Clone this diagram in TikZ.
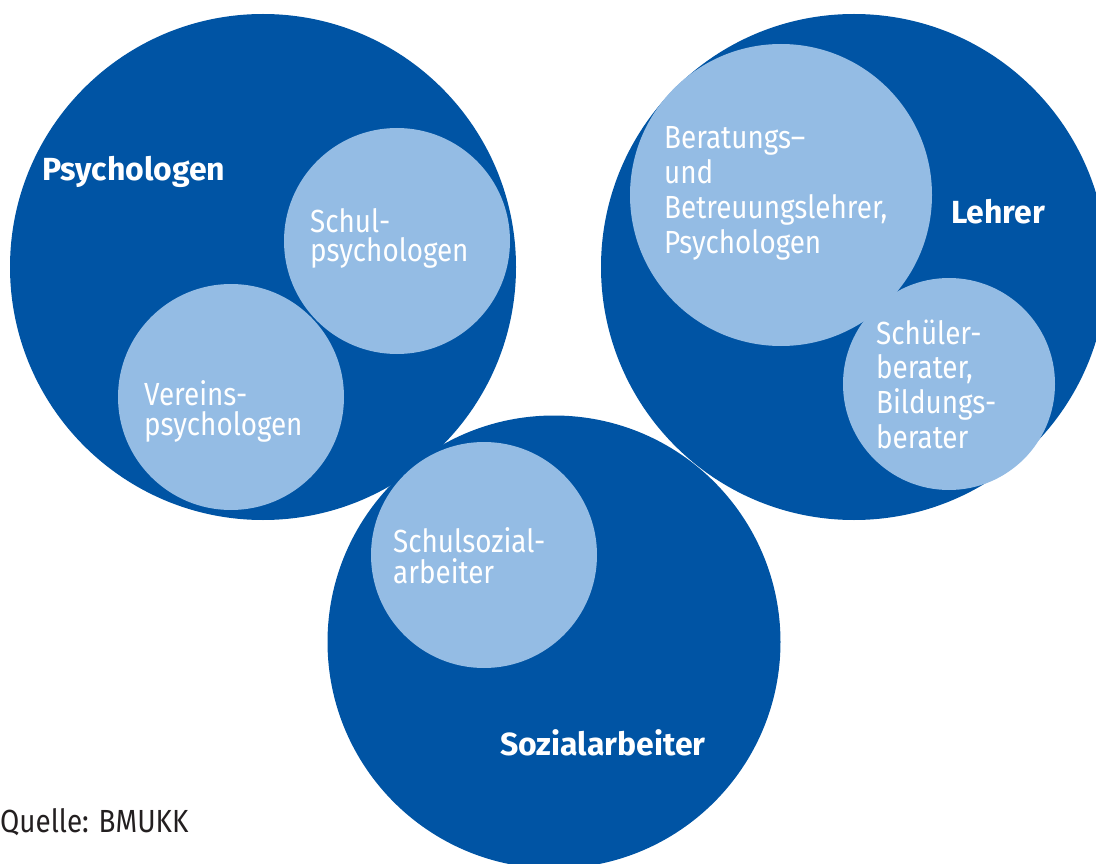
\documentclass[tikz,border=0pt]{standalone}
\usepackage{fontspec}
\setmainfont{Fira Sans}[FakeStretch=0.87, BoldFeatures={FakeStretch=1.0}]
\definecolor{dblue}{RGB}{0,84,164}
\definecolor{lblue}{RGB}{148,188,228}
\definecolor{qgray}{RGB}{35,31,32}
\tikzset{
  bigc/.style={circle, fill=dblue, inner sep=0pt, draw=none},
  smallc/.style={circle, fill=lblue, inner sep=0pt, draw=none},
  lab/.style={anchor=base west, inner sep=0pt, text=white},
  head/.style={anchor=base west, inner sep=0pt, text=white, font=\fontsize{32}{34}\selectfont\bfseries},
}
\newcommand{\txt}[2]{\parbox[t]{9cm}{\raggedright\fontsize{32}{#1}\selectfont #2}}
\begin{document}
\begin{tikzpicture}[x=1pt,y=-1pt]
\clip (0,0) rectangle (1096,864);
\useasboundingbox (0,0) rectangle (1096,864);
% big circles
\node[bigc, minimum size=506pt] (psy) at (263,267) {};
\node[bigc, minimum size=506pt] (leh) at (854,267) {};
\node[bigc, minimum size=453pt] (soz) at (554,642) {};
% small circles
\node[smallc, minimum size=226pt] (schul) at (397,241) {};
\node[smallc, minimum size=226pt] (verein) at (231,397) {};
\node[smallc, minimum size=302pt] (berat) at (781,195) {};
\node[smallc, minimum size=212pt] (schueler) at (949,384) {};
\node[smallc, minimum size=226pt] (schulsoz) at (484,555) {};
% headings
\node[head] (tpsy) at (42,181) {Psychologen};
\node[head] (tleh) at (951,223) {Lehrer};
\node[head] (tsoz) at (500,755) {Sozialarbeiter};
% labels
\node[lab] (tschul) at (310,233) {\txt{29}{Schul-\\psychologen}};
\node[lab] (tverein) at (144,405) {\txt{30}{Vereins-\\psychologen}};
\node[lab] (tberat) at (664,149) {\txt{34.7}{Beratungs--\\und\\Betreuungslehrer,\\Psychologen}};
\node[lab] (tschueler) at (876,344) {\txt{34.7}{Schüler-\\berater,\\Bildungs-\\berater}};
\node[lab] (tschulsoz) at (393,552) {\txt{31}{Schulsozial-\\arbeiter}};
\node[anchor=base west, inner sep=0pt, text=qgray, font=\fontsize{32}{34}\selectfont] (quelle) at (0,832) {Quelle: BMUKK};
\end{tikzpicture}
\end{document}
